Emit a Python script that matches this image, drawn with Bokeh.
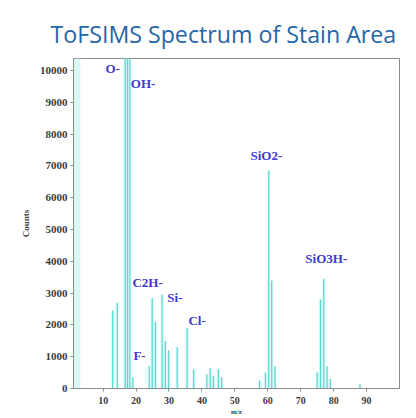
from bokeh.plotting import figure
from bokeh.models import LabelSet, ColumnDataSource, Range1d, FixedTicker
from bokeh.core.properties import value
from bokeh.embed import file_html
from bokeh.resources import INLINE

# ---------------- data ----------------
title_text = "ToFSIMS Spectrum of Stain Area"
x_label = "m/z"
y_label = "Counts"

# peak positions (m/z) and heights (counts); off-scale peaks given > 10000
peak_mz = [12.9, 14.3, 16.7, 17.4, 18.1, 19.0, 24.0, 24.9, 25.9,
           27.9, 28.9, 29.9, 32.5, 35.5, 37.5, 41.5, 42.5, 43.5, 45.0, 46.0,
           57.5, 59.3, 60.3, 61.2, 62.2, 75.0, 76.0, 77.0, 78.0, 79.0, 88.0]
peak_counts = [2450, 2700, 12000, 12000, 12000, 350, 700, 2850,
               2100, 2950, 1500, 1200, 1300, 1900, 600, 450, 650, 400, 600,
               350, 250, 500, 6860, 3400, 700, 500, 2800, 3450, 700, 300, 150]

# faint off-scale band at the low-mass end
faint_mz = [2.0]
faint_counts = [12000]

# peak annotations
peak_names = ["O-", "OH-", "C2H-", "Si-", "F-", "Cl-", "SiO2-", "SiO3H-"]
label_mz = [10.7, 18.4, 18.9, 29.5, 19.2, 35.9, 54.75, 71.4]
label_counts = [10063, 9590, 3330, 2860, 1040, 2140, 7330, 4090]

x_ticks = [10, 20, 30, 40, 50, 60, 70, 80, 90]
y_ticks = [0, 1000, 2000, 3000, 4000, 5000, 6000, 7000, 8000, 9000, 10000]

# ---------------- figure ----------------
axis_gray = "#8c8c8c"

p = figure(width=416, height=418, output_backend="svg", toolbar_location=None,
           title=title_text, x_range=Range1d(1, 100), y_range=Range1d(0, 10380),
           min_border_left=73, min_border_right=17, min_border_top=58,
           min_border_bottom=30, border_fill_color="white",
           background_fill_color="white", outline_line_color=axis_gray,
           outline_line_width=1)
p.grid.visible = False

p.title.align = "left"
p.title.offset = -23
p.title.text_font = "Open Sans"
p.title.text_font_style = "normal"
p.title.text_font_size = "23.2px"
p.title.text_color = "#2566a8"
p.title.standoff = 18

src = ColumnDataSource(dict(mz=peak_mz, counts=peak_counts,
                            base=[0] * len(peak_mz)))
fsrc = ColumnDataSource(dict(mz=faint_mz, counts=faint_counts,
                             base=[0] * len(faint_mz)))
p.segment(x0="mz", y0="base", x1="mz", y1="counts", source=fsrc,
          line_color="#b5efec", line_width=7, line_alpha=0.5)
# soft halo then sharp line for each peak
p.segment(x0="mz", y0="base", x1="mz", y1="counts", source=src,
          line_color="#b3eeea", line_width=3.5, line_alpha=0.35)
p.segment(x0="mz", y0="base", x1="mz", y1="counts", source=src,
          line_color="#55d8d1", line_width=1.2)

lsrc = ColumnDataSource(dict(x=label_mz, y=label_counts, t=peak_names))
p.add_layout(LabelSet(x="x", y="y", text="t", source=lsrc,
                      text_font=value("Liberation Serif"),
                      text_font_style="bold", text_font_size="13px",
                      text_color="#3f3bcc", text_align="left",
                      text_baseline="middle"))

# axes
for ax in (p.xaxis[0], p.yaxis[0]):
    ax.axis_line_color = axis_gray
    ax.major_tick_line_color = axis_gray
    ax.minor_tick_line_color = None
    ax.major_tick_in = 0
    ax.major_tick_out = 3
    ax.major_label_text_font = "Liberation Serif"
    ax.major_label_text_font_style = "bold"
    ax.major_label_text_color = "#3c3c3c"
    ax.axis_label_text_font = "Liberation Serif"
    ax.axis_label_text_font_style = "bold"
    ax.axis_label_text_color = "#3c3c3c"

p.yaxis.ticker = FixedTicker(ticks=y_ticks)
p.yaxis.major_label_text_font_size = "11px"
p.yaxis.major_label_standoff = 3
p.yaxis.axis_label = y_label
p.yaxis.axis_label_text_font_size = "9px"
p.yaxis.axis_label_standoff = 6

p.xaxis.ticker = FixedTicker(ticks=x_ticks)
p.xaxis.major_label_text_font_size = "10px"
p.xaxis.major_label_standoff = 5
p.xaxis.axis_label = x_label
p.xaxis.axis_label_text_font_size = "7px"
p.xaxis.axis_label_standoff = 1

open("out.html", "w").write(file_html(p, INLINE))
